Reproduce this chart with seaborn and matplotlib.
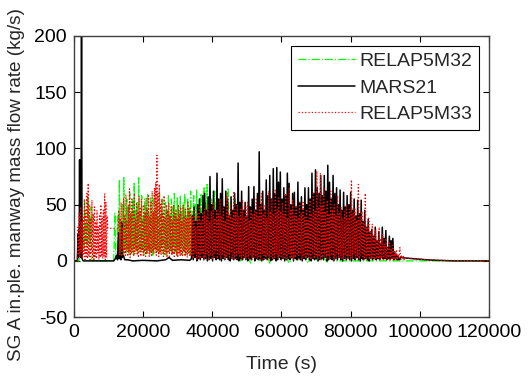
import numpy as np
import pandas as pd
import matplotlib
matplotlib.use('Agg')
import matplotlib.pyplot as plt
import seaborn as sns

sns.set_style('ticks')
plt.rcParams['font.family'] = ['Liberation Sans', 'DejaVu Sans']

series_names = ['RELAP5M32', 'MARS21', 'RELAP5M33']
x_ticks = [0, 20000, 40000, 60000, 80000, 100000, 120000]
y_ticks = [-50, 0, 50, 100, 150, 200]

# ---- MARS21 (black) ----
mars_early_t = [0, 1000, 1200, 1300, 1400, 1500, 1640, 1750, 1850, 1950, 2050, 2200,
                2350, 2500, 2700, 11500, 12000, 12300, 12600, 12900, 13100, 13300,
                13600, 13800, 14000, 14300, 14700, 15500, 17000, 20000, 24000, 26500,
                27500, 28500, 31000, 33500]
mars_early_v = [0, 0, 24, 3, 28, 4, 90, 5, 30, 3, 26, 215,
                2, 1, 0, 0, 2, 5, 1, 25, 2, 4,
                1, 34, 3, 5, 1, 1, 0, 0.5, 0, 1,
                3, 0.5, 1, 0.5]
mars_main_range = (34000, 94000)
mars_main_v = [
    2, 40, 1, 48, 3, 35, 0, 50,
    2, 55, 1, 42, 3, 58, 1, 60, 2, 45, 0, 57,
    1, 75, 2, 50, 0, 62, 3, 45,
    1, 78, 2, 55, 1, 60, 0, 73,
    2, 48, 1, 62, 3, 55, 1, 40,
    0, 57, 2, 45, 1, 60, 2, 50,
    1, 87, 0, 52, 2, 62, 1, 45,
    3, 52, 1, 40, 0, 66, 2, 48,
    1, 55, 3, 66, 0, 45, 2, 60,
    1, 97, 2, 50, 0, 62, 1, 45,
    2, 72, 1, 58, 3, 76, 0, 55,
    1, 82, 2, 60, 0, 83, 1, 70,
    3, 79, 1, 55, 2, 65, 0, 58,
    1, 78, 2, 69, 1, 50, 3, 60,
    0, 61, 2, 48, 1, 70, 2, 52,
    1, 57, 0, 45, 2, 65, 1, 50,
    3, 65, 1, 55, 0, 78, 2, 60,
    1, 81, 2, 65, 0, 60, 1, 76,
    2, 58, 1, 76, 3, 62, 0, 85,
    1, 70, 2, 55, 1, 76, 0, 60,
    2, 65, 1, 50, 3, 63, 1, 45,
    0, 61, 2, 48, 1, 58, 2, 50,
    1, 61, 0, 45, 2, 55, 1, 40,
    3, 54, 1, 42, 0, 54, 2, 35,
    1, 45, 2, 30, 1, 37, 0, 25,
    2, 28, 1, 22, 2, 30, 1, 18,
    2, 26, 1, 15, 3, 30, 2, 20,
    2, 27, 1, 12, 2, 22, 1, 18,
    2, 20, 1, 8, 2, 6, 1, 4, 1,
]
mars_tail_t = [94500, 96000, 98000, 100000, 102000, 105000, 110000, 120000]
mars_tail_v = [3, 2.5, 2, 1.5, 1, 0.5, 0, 0]

# ---- RELAP5M33 (red) ----
r33_start_t = [0]
r33_start_v = [0]
r33_early_range = (1000, 9800)
r33_early_v = [0, 30, 5, 42, 3, 48, 8, 35, 2, 40, 6, 55, 1, 45, 4, 60, 2, 69, 5, 50,
               1, 38, 6, 54, 3, 42, 0, 48, 4, 35, 2, 45, 7, 30, 1, 40, 3, 50, 5, 38,
               2, 45, 4, 60, 1, 52, 3, 40, 29]
r33_mid_range = (12800, 34000)
r33_mid_v = [
    29, 45, 5, 38, 10, 52, 4, 30, 8, 55, 6, 40,
    5, 59, 9, 35, 4, 50, 7, 64, 3, 42, 6, 55,
    8, 45, 4, 60, 6, 38, 10, 52, 5, 44, 3, 58,
    7, 48, 4, 55, 9, 36, 5, 50, 8, 42, 4, 56,
    6, 45, 9, 58, 4, 40, 7, 52, 5, 62, 8, 44,
    6, 65, 10, 70, 5, 94, 8, 60, 4, 68, 7, 50,
    5, 55, 9, 42, 4, 58, 6, 38, 8, 50, 3, 45,
    7, 52, 4, 40, 9, 48, 5, 36, 6, 50, 4, 42,
    8, 46, 5, 38, 3, 50, 7, 42, 4, 48, 6, 35,
    5, 50, 8, 40, 4, 46, 6, 38, 3, 52, 7, 44, 5, 48, 4, 40,
]
r33_main_range = (34000, 96000)
r33_main_v = [
    5, 40, 2, 45, 6, 30, 1, 42,
    4, 48, 2, 36, 7, 42, 1, 46,
    3, 40, 6, 50, 2, 35, 5, 44,
    1, 52, 4, 38, 8, 46, 2, 42,
    5, 55, 2, 40, 6, 48, 1, 36,
    3, 60, 5, 42, 2, 50, 7, 38,
    1, 62, 4, 44, 2, 50, 6, 40,
    3, 46, 1, 54, 5, 38, 2, 48,
    4, 52, 2, 36, 6, 46, 1, 42,
    3, 44, 5, 56, 2, 40, 4, 48,
    1, 60, 6, 42, 2, 50, 3, 38,
    5, 62, 2, 44, 4, 55, 1, 42,
    3, 64, 6, 46, 2, 56, 4, 44,
    1, 52, 5, 42, 3, 60, 2, 38,
    6, 65, 2, 46, 4, 54, 1, 40,
    3, 48, 5, 38, 2, 52, 6, 42,
    1, 52, 4, 40, 2, 46, 5, 36,
    3, 54, 1, 42, 6, 60, 2, 44,
    4, 80, 2, 48, 5, 78, 1, 50,
    3, 65, 6, 44, 2, 54, 4, 42,
    1, 62, 5, 46, 3, 50, 2, 40,
    6, 58, 2, 42, 4, 48, 1, 38,
    3, 44, 5, 50, 2, 38, 4, 46,
    1, 72, 3, 42, 6, 46, 2, 36,
    4, 68, 2, 40, 5, 44, 1, 33,
    3, 60, 2, 30, 4, 38, 1, 26,
    2, 33, 3, 22, 1, 28, 2, 18,
    3, 30, 1, 20, 2, 24, 1, 15,
    2, 20, 1, 12, 3, 16, 1, 10,
    2, 14, 1, 8, 2, 10, 1, 6,
    2, 12, 1, 5, 2, 4, 1, 3, 2,
]
r33_tail_t = [96500, 98000, 100000, 102000, 105000, 110000, 115000, 120000]
r33_tail_v = [2.5, 2, 1.5, 1, 0.6, 0.4, 0.3, 0]

# ---- RELAP5M32 (green) ----
r32_start_t = [0]
r32_start_v = [0]
r32_early_range = (1500, 5200)
r32_early_v = [0, 20, 12, 44, 15, 30, 10, 52, 18, 35, 12, 57, 20, 40, 15, 48, 0]
r32_gap_t = [11500, 11850, 12100]
r32_gap_v = [0, 43, 2]
r32_mid_range = (12500, 40000)
r32_mid_v = [
    5, 40, 8, 72, 4, 35, 10, 50, 6, 74, 12, 38, 7, 55,
    10, 48, 6, 60, 12, 42, 8, 55, 5, 70, 14, 45, 9, 52,
    6, 74, 10, 45, 8, 58, 12, 40, 5, 55, 9, 48, 7, 60,
    11, 42, 6, 56, 9, 38, 5, 58, 12, 45, 7, 52, 10, 40,
    5, 60, 8, 44, 12, 55, 6, 38, 9, 52, 5, 46, 11, 58,
    7, 42, 10, 55, 6, 48, 13, 60, 8, 40, 5, 56, 10, 45,
    7, 58, 12, 44, 6, 52, 9, 60, 5, 40, 11, 55, 8, 48,
    6, 62, 10, 45, 7, 58, 12, 50, 8, 63, 5, 42, 9, 55,
    7, 60, 11, 48, 6, 66, 10, 52, 8, 68, 5, 45, 12, 62, 9, 55, 6,
]
r32_late_range = (40200, 48000)
r32_late_v = [6, 62, 4, 40, 8, 58, 3, 45, 5, 65, 2, 38, 6, 55, 3, 42, 2]
r32_low_range = (48300, 76000)
r32_low_v = [0, 10, -2, 8, 0, 12, -2, 6, 1, 9, -2, 5, 0, 10, -2, 7, 0, 4, -1, 6, 0]
r32_tail_t = [120000]
r32_tail_v = [0]


def build(pieces):
    ts, vs = [], []
    for p in pieces:
        if isinstance(p[0], tuple):
            rng, vals = p
            ts.append(np.linspace(rng[0], rng[1], len(vals)))
            vs.append(np.asarray(vals, dtype=float))
        else:
            ts.append(np.asarray(p[0], dtype=float))
            vs.append(np.asarray(p[1], dtype=float))
    return pd.DataFrame({'t': np.concatenate(ts), 'v': np.concatenate(vs)})


r32 = build([(r32_start_t, r32_start_v), (r32_early_range, r32_early_v),
             (r32_gap_t, r32_gap_v), (r32_mid_range, r32_mid_v),
             (r32_late_range, r32_late_v), (r32_low_range, r32_low_v),
             (r32_tail_t, r32_tail_v)])
mars = build([(mars_early_t, mars_early_v), (mars_main_range, mars_main_v),
              (mars_tail_t, mars_tail_v)])
r33 = build([(r33_start_t, r33_start_v), (r33_early_range, r33_early_v),
             (r33_mid_range, r33_mid_v), (r33_main_range, r33_main_v),
             (r33_tail_t, r33_tail_v)])

fig = plt.figure(figsize=(5.28, 3.78), dpi=100)
ax = fig.add_axes([0.140, 0.161, 0.786, 0.744])

styles = [(r32, '#00ff00', '-.', 0.9), (mars, 'black', '-', 1.1), (r33, '#ff0000', ':', 0.9)]
for name, (df, color, ls, lw) in zip(series_names, styles):
    sns.lineplot(data=df, x='t', y='v', sort=False, estimator=None, color=color,
                 linestyle=ls, lw=lw, label=name, ax=ax)

ax.set_xlim(0, 120000)
ax.set_ylim(-50, 200)
ax.set_xticks(x_ticks)
ax.set_yticks(y_ticks)
ax.set_xticklabels([str(x) for x in x_ticks])
ax.set_yticklabels([str(y) for y in y_ticks])
ax.tick_params(direction='in', length=4, width=0.8, top=True, right=True,
               labelsize=14, colors='black', pad=5)
for s in ax.spines.values():
    s.set_color('#404040')
    s.set_linewidth(1.0)
ax.set_xlabel('Time (s)', fontsize=14, labelpad=11)
ax.set_ylabel('SG A in.ple. manway mass flow rate (kg/s)', fontsize=13.6)
ax.yaxis.set_label_coords(-0.118, 0.47)

leg = ax.legend(loc='upper right', fontsize=14, frameon=True, fancybox=False,
                framealpha=1, edgecolor='black', handlelength=2.9,
                handletextpad=0.25, labelspacing=0.46, borderaxespad=0.5,
                borderpad=0.35)
leg.get_frame().set_linewidth(0.8)

fig.savefig('out.png', dpi=100)
